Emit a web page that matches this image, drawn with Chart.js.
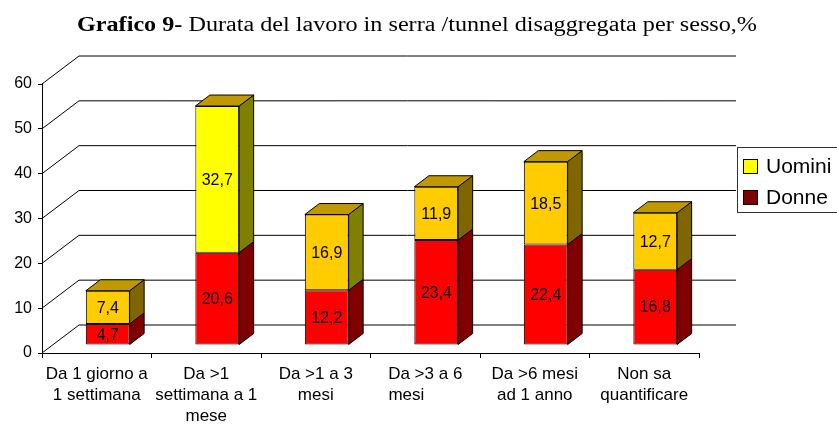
<!DOCTYPE html>
<html>
<head>
<meta charset="utf-8">
<script src="https://cdn.jsdelivr.net/npm/chart.js@4/dist/chart.umd.min.js"></script>
<style>
  body { margin: 0; background: #fff; }
</style>
</head>
<body>
<canvas id="myChart" width="837" height="424"></canvas>
<script>
// chart values
const categories = [
  ["Da 1 giorno a", "1 settimana"],
  ["Da >1", "settimana a 1", "mese"],
  ["Da >1 a 3", "mesi"],
  ["Da >3 a 6", "mesi        "],
  ["Da >6 mesi", "ad 1 anno"],
  ["Non sa", "quantificare"]
];
const donne = [4.7, 20.6, 12.2, 23.4, 22.4, 16.8];
const uomini = [7.4, 32.7, 16.9, 11.9, 18.5, 12.7];
const yTicks = [0, 10, 20, 30, 40, 50, 60];

// colours of the faces
const donneFront = "#FF0000";
const donneSide = "#800000";
const uominiFront = ["#FFCC00", "#FFFF00", "#FFCC00", "#FFCC00", "#FFCC00", "#FFCC00"];
const uominiSide = ["#806600", "#808000", "#808000", "#806600", "#806600", "#806600"];
const uominiTop = "#C09900";

// 3d offsets
const wallDepth = { x: 37, y: -28 };
const barShift = { x: 11, y: -8 };
const barDepth = { x: 14.5, y: -11 };

function fmt(v) {
  return v.toFixed(1).replace(".", ",");
}

// draws the walls, the side faces of the bars, the labels, title and legend
const threeD = {
  id: "threeD",
  beforeDatasetsDraw(chart) {
    const ctx = chart.ctx;
    const y = chart.scales.y;
    const area = chart.chartArea;
    ctx.save();
    ctx.strokeStyle = "#000";
    ctx.lineWidth = 1;
    yTicks.forEach((v) => {
      const py = y.getPixelForValue(v);
      ctx.beginPath();
      ctx.moveTo(area.left, py);
      ctx.lineTo(area.left + wallDepth.x, py + wallDepth.y);
      ctx.lineTo(area.right + wallDepth.x, py + wallDepth.y);
      ctx.stroke();
    });
    ctx.restore();
    // bars sit a bit behind the front plane
    ctx.save();
    ctx.translate(barShift.x, barShift.y);
  },
  afterDatasetsDraw(chart) {
    const ctx = chart.ctx;
    const metas = [chart.getDatasetMeta(0), chart.getDatasetMeta(1)];
    metas.forEach((meta, d) => {
      meta.data.forEach((bar, i) => {
        const p = bar.getProps(["x", "y", "base", "width"]);
        const left = p.x - p.width / 2;
        const right = p.x + p.width / 2;
        ctx.strokeStyle = "#000";
        ctx.lineWidth = 1;
        // side face
        ctx.beginPath();
        ctx.moveTo(right, p.y);
        ctx.lineTo(right + barDepth.x, p.y + barDepth.y);
        ctx.lineTo(right + barDepth.x, p.base + barDepth.y);
        ctx.lineTo(right, p.base);
        ctx.closePath();
        ctx.fillStyle = d == 0 ? donneSide : uominiSide[i];
        ctx.fill();
        ctx.stroke();
        // top face only for the upper block
        if (d == 1) {
          ctx.beginPath();
          ctx.moveTo(left, p.y);
          ctx.lineTo(left + barDepth.x, p.y + barDepth.y);
          ctx.lineTo(right + barDepth.x, p.y + barDepth.y);
          ctx.lineTo(right, p.y);
          ctx.closePath();
          ctx.fillStyle = uominiTop;
          ctx.fill();
          ctx.stroke();
        }
      });
    });
    // value labels
    ctx.fillStyle = "#000";
    ctx.font = "16px 'Liberation Sans', Arial, sans-serif";
    ctx.textAlign = "center";
    ctx.textBaseline = "middle";
    metas.forEach((meta, d) => {
      const values = d == 0 ? donne : uomini;
      meta.data.forEach((bar, i) => {
        const p = bar.getProps(["x", "y", "base"]);
        ctx.fillText(fmt(values[i]), p.x, (p.y + p.base) / 2 + 1);
      });
    });
    ctx.restore();
  },
  afterDraw(chart) {
    const ctx = chart.ctx;
    ctx.save();
    // title, bold part then normal part, fitted to the reference width
    const boldPart = "Grafico 9- ";
    const restPart = "Durata del lavoro in serra /tunnel disaggregata per sesso,%";
    const boldFont = "bold 20px 'Liberation Serif', 'Times New Roman', serif";
    const normFont = "20px 'Liberation Serif', 'Times New Roman', serif";
    ctx.font = boldFont;
    const wb = ctx.measureText(boldPart).width;
    ctx.font = normFont;
    const wr = ctx.measureText(restPart).width;
    const sx = 680 / (wb + wr);
    ctx.translate(77, 31);
    ctx.scale(sx, 1);
    ctx.fillStyle = "#000";
    ctx.textBaseline = "alphabetic";
    ctx.textAlign = "left";
    ctx.font = boldFont;
    ctx.fillText(boldPart, 0, 0);
    ctx.font = normFont;
    ctx.fillText(restPart, wb, 0);
    ctx.restore();

    // legend box
    ctx.save();
    ctx.fillStyle = "#fff";
    ctx.strokeStyle = "#333";
    ctx.lineWidth = 1;
    ctx.fillRect(737.5, 147.5, 110, 65);
    ctx.strokeRect(737.5, 147.5, 110, 65);
    const items = [
      { text: chart.data.datasets[1].label, color: "#FFFF00", y: 159.5 },
      { text: chart.data.datasets[0].label, color: "#800000", y: 190.5 }
    ];
    ctx.font = "21px 'Liberation Sans', Arial, sans-serif";
    ctx.textBaseline = "middle";
    items.forEach((it) => {
      ctx.fillStyle = it.color;
      ctx.fillRect(743.5, it.y, 14, 14);
      ctx.strokeStyle = "#000";
      ctx.strokeRect(743.5, it.y, 14, 14);
      ctx.fillStyle = "#000";
      ctx.fillText(it.text, 766, it.y + 8);
    });
    ctx.restore();
  }
};

const ctx = document.getElementById("myChart").getContext("2d");
const chart = new Chart(ctx, {
  type: "bar",
  data: {
    labels: categories,
    datasets: [
      {
        label: "Donne",
        data: donne,
        backgroundColor: donneFront,
        borderColor: "#000",
        borderWidth: 1,
        borderSkipped: false
      },
      {
        label: "Uomini",
        data: uomini,
        backgroundColor: uominiFront,
        borderColor: "#000",
        borderWidth: 1,
        borderSkipped: false
      }
    ]
  },
  options: {
    responsive: false,
    devicePixelRatio: 1,
    animation: false,
    datasets: {
      bar: { barPercentage: 0.4, categoryPercentage: 1, clip: false }
    },
    layout: { padding: { left: 0, right: 138, top: 84, bottom: 0 } },
    plugins: {
      legend: { display: false },
      title: { display: false },
      tooltip: { enabled: false }
    },
    scales: {
      x: {
        stacked: true,
        offset: true,
        grid: { offset: true, drawOnChartArea: false, tickLength: 5, color: "#000" },
        border: { color: "#000" },
        ticks: {
          color: "#000",
          autoSkip: false,
          maxRotation: 0,
          padding: 6,
          font: { family: "'Liberation Sans', Arial, sans-serif", size: 17, lineHeight: 1.24 }
        },
        afterFit: (s) => {
          s.height = 71;
          s.paddingLeft = 0;
          s.paddingRight = 0;
        }
      },
      y: {
        stacked: true,
        min: 0,
        max: 60,
        grid: { drawOnChartArea: false, tickLength: 4, color: "#000" },
        border: { color: "#000" },
        ticks: {
          stepSize: 10,
          color: "#000",
          padding: 6,
          font: { family: "'Liberation Sans', Arial, sans-serif", size: 16 }
        },
        afterFit: (s) => {
          s.width = 42;
          s.paddingTop = 0;
          s.paddingBottom = 0;
        }
      }
    }
  },
  plugins: [threeD]
});
</script>
</body>
</html>
